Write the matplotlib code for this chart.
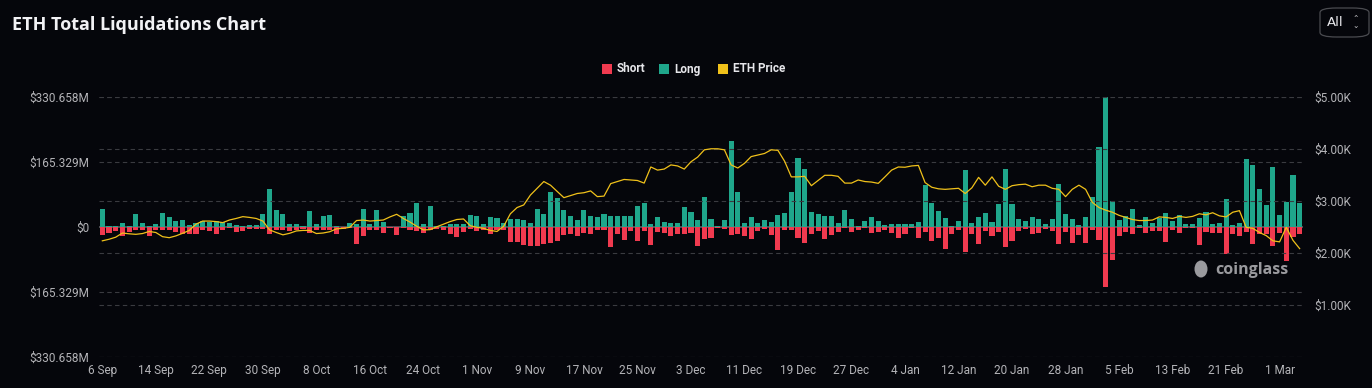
import numpy as np
import pandas as pd
import matplotlib
matplotlib.use("Agg")
import matplotlib.pyplot as plt
from matplotlib.patches import Rectangle, FancyBboxPatch

# ---------------- data ----------------
dates = pd.date_range("2024-09-06", periods=180, freq="D")

long_liq = [47, 4, 4, 10, 4, 35, 10, 4, 8, 36, 25, 15, 18, 5, 12, 15, 14, 15, 13, 11,
            5, 4, 7, 5, 35, 97, 43, 35, 8, 8, 4, 42, 9, 29, 32, 3, 2, 10, 8, 46,
            8, 45, 13, 2, 2, 30, 37, 63, 9, 55, 3, 4, 8, 9, 9, 31, 28, 8, 27, 23,
            12, 20, 20, 18, 12, 47, 35, 89, 74, 43, 28, 18, 43, 28, 25, 33, 30, 28, 28, 30,
            53, 62, 8, 25, 13, 11, 11, 51, 39, 18, 77, 20, 3, 18, 219, 90, 12, 26, 11, 18,
            13, 32, 37, 89, 176, 149, 39, 35, 30, 28, 11, 43, 22, 3, 16, 25, 15, 6, 9, 9,
            8, 8, 14, 107, 63, 42, 24, 3, 15, 145, 11, 25, 36, 14, 60, 148, 60, 22, 17, 25,
            20, 8, 22, 110, 33, 20, 5, 25, 77, 204, 331, 67, 18, 28, 47, 7, 25, 12, 23, 37,
            16, 31, 8, 9, 24, 39, 9, 11, 71, 5, 11, 173, 159, 98, 56, 154, 31, 64, 134, 62]

short_liq = [19, 14, 10, 21, 11, 7, 8, 22, 6, 7, 8, 12, 16, 16, 16, 8, 10, 18, 8, 2,
             13, 10, 5, 4, 4, 16, 8, 8, 10, 8, 5, 14, 8, 8, 8, 16, 4, 3, 43, 21,
             8, 6, 14, 2, 20, 3, 8, 9, 14, 8, 5, 6, 16, 24, 12, 4, 10, 6, 16, 8,
             8, 37, 37, 46, 47, 47, 42, 40, 35, 20, 18, 23, 14, 18, 6, 6, 50, 18, 33, 9,
             35, 9, 46, 12, 14, 23, 18, 18, 14, 48, 31, 27, 3, 5, 20, 18, 23, 31, 9, 5,
             20, 57, 8, 8, 27, 39, 16, 10, 31, 19, 12, 1, 12, 6, 2, 14, 12, 6, 14, 27,
             18, 3, 26, 12, 36, 26, 56, 18, 6, 64, 18, 43, 10, 22, 13, 50, 36, 10, 5, 18,
             14, 5, 10, 42, 12, 40, 19, 40, 6, 33, 152, 84, 22, 12, 18, 3, 14, 10, 10, 37,
             8, 14, 3, 3, 44, 12, 14, 14, 69, 18, 22, 12, 43, 18, 18, 47, 14, 86, 25, 16]

eth_price = [2240, 2270, 2310, 2390, 2375, 2365, 2380, 2420, 2400, 2320,
             2300, 2335, 2385, 2440, 2560, 2620, 2620, 2610, 2590, 2640,
             2670, 2705, 2690, 2670, 2620, 2450, 2400, 2355, 2385, 2430,
             2440, 2440, 2380, 2390, 2415, 2470, 2480, 2500, 2630, 2640,
             2620, 2630, 2640, 2700, 2750, 2670, 2600, 2520, 2450, 2455,
             2510, 2560, 2610, 2650, 2660, 2530, 2500, 2480, 2440, 2420,
             2520, 2760, 2880, 2930, 3120, 3250, 3380, 3310, 3190, 3070,
             3110, 3150, 3165, 3200, 3090, 3100, 3340, 3380, 3420, 3410,
             3400, 3350, 3660, 3600, 3620, 3700, 3680, 3620, 3760, 3850,
             3990, 4010, 4010, 3990, 3700, 3640, 3730, 3860, 3890, 3920,
             3990, 3980, 3770, 3470, 3470, 3480, 3300, 3400, 3500, 3500,
             3480, 3350, 3350, 3410, 3380, 3370, 3345, 3470, 3600, 3660,
             3655, 3680, 3690, 3360, 3270, 3240, 3230, 3240, 3250, 3150,
             3260, 3460, 3310, 3470, 3290, 3230, 3300, 3320, 3330, 3280,
             3310, 3310, 3250, 3230, 3090, 3230, 3310, 3230, 2980, 2880,
             2830, 2790, 2730, 2690, 2650, 2630, 2630, 2640, 2700, 2690,
             2670, 2710, 2690, 2710, 2760, 2740, 2780, 2720, 2700, 2790,
             2820, 2500, 2480, 2400, 2340, 2240, 2220, 2500, 2250, 2090]

left_ticks = [-330.658, -165.329, 0, 165.329, 330.658]
left_labels = ["$330.658M", "$165.329M", "$0", "$165.329M", "$330.658M"]
right_ticks = [1000, 2000, 3000, 4000, 5000]
right_labels = ["$1.00K", "$2.00K", "$3.00K", "$4.00K", "$5.00K"]

# ---------------- style ----------------
BG = "#05060b"
GREEN = "#1fa68b"
RED = "#f03a4f"
YELLOW = "#f0c11a"
TICK = "#b4b4b8"
GRID = "#3a3b40"
TFONT = "Roboto"

W, H = 1372, 388
fig = plt.figure(figsize=(W / 100, H / 100), dpi=100, facecolor=BG)

x0, x1 = 99, 1303
y0, y1 = 97.3, 357.3
ax = fig.add_axes([x0 / W, 1 - y1 / H, (x1 - x0) / W, (y1 - y0) / H])
ax.set_facecolor(BG)

x = np.arange(len(dates))
lv = np.array(long_liq, dtype=float)
sv = np.array(short_liq, dtype=float)

ax.axhline(0, color="#5a5b60", lw=1.2, zorder=1)
ax.bar(x, lv, width=0.76, color=GREEN, zorder=2)
ax.bar(x, -sv, width=0.76, color=RED, zorder=2)

ax.set_xlim(-0.5, len(x) - 0.5)
ax.set_ylim(-330.658, 330.658)
ax.set_yticks(left_ticks)
ax.set_yticklabels(left_labels, family=TFONT)
for v in left_ticks:
    if v != 0:
        ax.axhline(v, color=GRID, lw=0.8, ls=(0, (4, 3)), zorder=0)

tick_idx = list(range(0, len(x), 8))
ax.set_xticks(tick_idx)
ax.set_xticklabels([f"{dates[i].day} {dates[i].strftime('%b')}" for i in tick_idx],
                   family=TFONT)

ax.tick_params(axis="both", length=0, colors=TICK, labelsize=8.5)
ax.tick_params(axis="y", pad=7)
ax.tick_params(axis="x", pad=5)
for s in ax.spines.values():
    s.set_visible(False)

ax2 = ax.twinx()
ax2.set_ylim(0, 5000)
ax2.set_yticks(right_ticks)
ax2.set_yticklabels(right_labels, family=TFONT)
ax2.tick_params(axis="y", length=0, colors=TICK, labelsize=8.5, pad=8)
for v in right_ticks:
    ax2.axhline(v, color=GRID, lw=0.8, ls=(0, (4, 3)), zorder=0)
ax2.axhline(0.5, color=GRID, lw=0.8, ls=(0, (4, 3)), zorder=0)
for s in ax2.spines.values():
    s.set_visible(False)
ax2.plot(x, eth_price, color=YELLOW, lw=0.9, zorder=3)

# ---------------- title, selector, legend, watermark ----------------
fig.text(12 / W, 1 - 25 / H, "ETH Total Liquidations Chart", color="#f2f2f5",
         fontsize=13, fontweight="bold", va="center", ha="left", family="Open Sans")

box = FancyBboxPatch((1320 / W, 1 - 37 / H), 49 / W, 29 / H,
                     boxstyle="round,pad=0,rounding_size=0.012",
                     transform=fig.transFigure, facecolor=BG, edgecolor="#4a4b50", lw=0.9)
fig.patches.append(box)
fig.text(1327 / W, 1 - 22.5 / H, "All", color="#e8e8ec", fontsize=9.5, va="center", ha="left")
fig.text(1356 / W, 1 - 22.5 / H, "\u2303\n\u2304", color="#c8c8cc", fontsize=5.5,
         va="center", ha="center", linespacing=0.6)

legend_items = [("Short", RED, 602), ("Long", GREEN, 659), ("ETH Price", YELLOW, 718)]
for label, col, px in legend_items:
    fig.patches.append(Rectangle((px / W, 1 - 74 / H), 10 / W, 10 / H,
                                 transform=fig.transFigure, facecolor=col, edgecolor="none"))
    fig.text((px + 15) / W, 1 - 69 / H, label, color="#e6e6ea", fontsize=8.5,
             va="center", ha="left", family=TFONT, fontweight="bold")

fig.text(1215 / W, 1 - 270 / H, "coinglass", color="#9a9a9e", fontsize=11.5,
         va="center", ha="left", fontweight="bold", family="Open Sans")
fig.patches.append(matplotlib.patches.Ellipse((1201 / W, 1 - 269 / H), 13 / W, 17 / H,
                                              transform=fig.transFigure,
                                              facecolor="#9a9a9e", edgecolor="none"))

fig.savefig("out.png", dpi=100, facecolor=BG)
